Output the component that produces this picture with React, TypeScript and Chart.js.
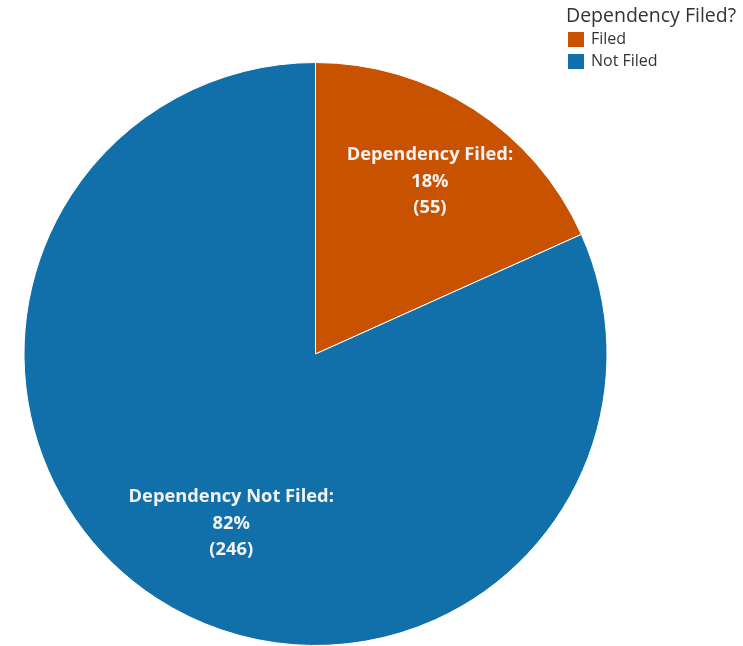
import React, { useEffect, useRef } from "react";
import { Chart, registerables } from "chart.js";

Chart.register(...registerables);

const legendTitle = "Dependency Filed?";
const categories = ["Filed", "Not Filed"];
const labelNames = ["Dependency Filed:", "Dependency Not Filed:"];
const counts = [55, 246];
const colors = ["#C85200", "#1170AA"];

const FONT = "'Open Sans', 'Noto Sans', sans-serif";

const sliceLabelPlugin = {
  id: "sliceLabels",
  afterDatasetsDraw(chart: any) {
    const ctx = chart.ctx;
    const meta = chart.getDatasetMeta(0);
    const total = counts.reduce((a, b) => a + b, 0);
    const angleFrac = [0.51, 0.478];
    const radFrac = [0.71, 0.65];
    ctx.save();
    ctx.fillStyle = "#F2F2F2";
    ctx.textAlign = "center";
    ctx.textBaseline = "middle";
    ctx.font = `bold 18.3px ${FONT}`;
    meta.data.forEach((arc: any, i: number) => {
      const p = arc.getProps(["x", "y", "startAngle", "endAngle", "outerRadius"], true);
      const a = p.startAngle + angleFrac[i] * (p.endAngle - p.startAngle);
      const r = p.outerRadius * radFrac[i];
      const cx = p.x + Math.cos(a) * r;
      const cy = p.y + Math.sin(a) * r;
      const pct = Math.round((counts[i] / total) * 100) + "%";
      const lines = [labelNames[i], pct, `(${counts[i]})`];
      lines.forEach((t, k) => ctx.fillText(t, cx, cy + (k - 1) * 26.5));
    });
    // legend
    ctx.textAlign = "left";
    ctx.fillStyle = "#333333";
    ctx.font = `19.5px ${FONT}`;
    ctx.fillText(legendTitle, 566, 16);
    ctx.font = `16px ${FONT}`;
    categories.forEach((c, i) => {
      const y = 39.5 + i * 22;
      ctx.fillStyle = colors[i];
      ctx.fillRect(568, y - 7.5, 16, 15);
      ctx.fillStyle = "#333333";
      ctx.fillText(c, 591, y);
    });
    ctx.restore();
  },
};

export default function App() {
  const ref = useRef<HTMLCanvasElement>(null);
  useEffect(() => {
    if (!ref.current) return;
    const chart = new Chart(ref.current, {
      type: "pie",
      data: {
        labels: categories,
        datasets: [
          {
            data: counts,
            backgroundColor: colors,
            borderColor: "#FFFFFF",
            borderWidth: 1,
          },
        ],
      },
      options: {
        responsive: false,
        animation: false,
        layout: { padding: { left: 23.5, right: 135.5, top: 62, bottom: 0 } },
        plugins: {
          legend: { display: false },
          tooltip: { enabled: false },
        },
      },
      plugins: [sliceLabelPlugin],
    });
    return () => chart.destroy();
  }, []);
  return (
    <div style={{ position: "fixed", left: 0, top: 0, width: 743, height: 646, background: "#fff" }}>
      <canvas ref={ref} width={743} height={646} style={{ width: 743, height: 646 }} />
    </div>
  );
}
